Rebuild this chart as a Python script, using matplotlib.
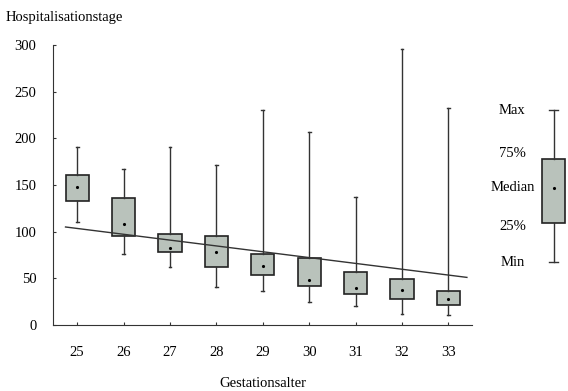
import matplotlib
matplotlib.use("Agg")
import matplotlib.pyplot as plt

# data
ages = [25, 26, 27, 28, 29, 30, 31, 32, 33]
mins = [110, 76, 62, 41, 36, 25, 20, 12, 11]
q1 = [133, 95, 78, 62, 54, 42, 33, 28, 21]
medians = [148, 108, 83, 78, 63, 48, 40, 37, 28]
q3 = [161, 136, 98, 95, 76, 72, 57, 49, 36]
maxs = [191, 167, 191, 171, 230, 207, 137, 296, 232]

# regression line end points
reg_x = [24.75, 33.4]
reg_y = [105, 51]

# legend example box
leg_stats = dict(whislo=67, q1=109, med=147, q3=178, whishi=230)
leg_labels = ["Min", "25%", "Median", "75%", "Max"]

plt.rcParams['font.family'] = ['Liberation Serif', 'DejaVu Serif']
plt.rcParams['font.size'] = 10.5

fig = plt.figure(figsize=(5.68, 3.91), dpi=100)
ax = fig.add_axes([0.0933, 0.1688, 0.7377, 0.7162])

box_face = '#b9c2bb'
stats = []
for i in range(len(ages)):
    stats.append(dict(whislo=mins[i], q1=q1[i], med=medians[i], q3=q3[i], whishi=maxs[i]))

bp = ax.bxp(stats, positions=ages, widths=0.5, patch_artist=True, showfliers=False,
            boxprops=dict(facecolor=box_face, edgecolor='#222222', lw=1.2),
            whiskerprops=dict(color='#333333', lw=1),
            capprops=dict(color='#333333', lw=1), capwidths=0.06,
            medianprops=dict(lw=0))
ax.plot(ages, medians, 'k.', ms=2.5)
ax.plot(reg_x, reg_y, color='#333333', lw=1)

ax.set_xlim(24.48, 33.51)
ax.set_ylim(0, 300)
ax.set_xticks(ages)
ax.set_xticklabels([str(a) for a in ages])
ax.set_yticks(range(0, 301, 50))
ax.spines['top'].set_visible(False)
ax.spines['right'].set_visible(False)
ax.spines['left'].set_color('#333333')
ax.spines['bottom'].set_color('#333333')
ax.tick_params(axis='x', direction='in', length=2, pad=15, color='#333333')
ax.tick_params(axis='y', direction='in', length=2, pad=12, color='#333333')
ax.set_xlabel('Gestationsalter', labelpad=13)
fig.text(0.009, 0.955, 'Hospitalisationstage', ha='left', va='center', fontsize=10.5)

# legend box on the right
lax = fig.add_axes([0.93, 0.1688, 0.09, 0.7162])
lax.bxp([leg_stats], positions=[0], widths=0.45, patch_artist=True, showfliers=False,
        boxprops=dict(facecolor=box_face, edgecolor='#222222', lw=1.2),
        whiskerprops=dict(color='#333333', lw=1),
        capprops=dict(color='#333333', lw=1), capwidths=0.18,
        medianprops=dict(lw=0))
lax.plot([0], [leg_stats['med']], 'k.', ms=2.5)
lax.set_xlim(-0.5, 0.5)
lax.set_ylim(0, 300)
lax.axis('off')
leg_vals = [leg_stats['whislo'], leg_stats['q1'], leg_stats['med'], leg_stats['q3'], leg_stats['whishi']]
for lab, v in zip(leg_labels, leg_vals):
    y = v
    if lab == '25%':
        y = v - 3
    if lab == '75%':
        y = v + 6
    lax.text(-0.81, y, lab, ha='center', va='center', fontsize=10.5, clip_on=False)

fig.savefig('out.png', dpi=100)
